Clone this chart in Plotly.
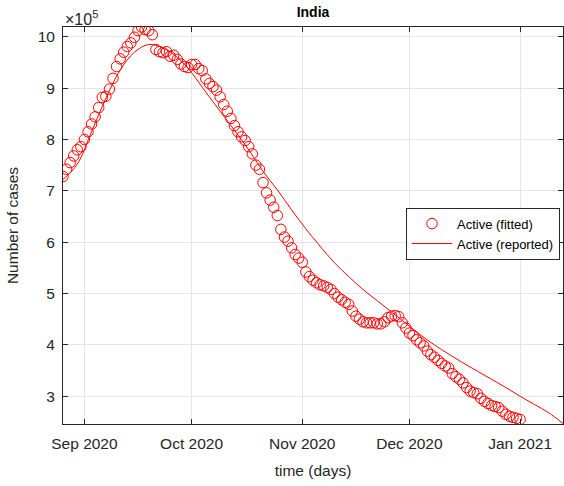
import plotly.graph_objects as go
import pandas as pd

# Daily active cases (in units of 1e5), 26 Aug 2020 .. 1 Jan 2021
FITTED_START = "2020-08-26"
ACTIVE_FITTED = [
    7.28, 7.42, 7.55, 7.68, 7.80, 7.86, 8.00, 8.15, 8.30, 8.44,
    8.62, 8.82, 8.84, 8.98, 9.19, 9.42, 9.57, 9.70, 9.81, 9.88,
    9.99, 10.12, 10.19, 10.14, 10.12, 10.04, 9.75, 9.71, 9.69, 9.71,
    9.62, 9.64, 9.56, 9.47, 9.42, 9.40, 9.46, 9.46, 9.38, 9.34,
    9.18, 9.09, 9.03, 8.96, 8.83, 8.68, 8.55, 8.41, 8.27, 8.15,
    8.05, 7.98, 7.86, 7.72, 7.50, 7.42, 7.16, 6.96, 6.82, 6.68,
    6.52, 6.25, 6.10, 6.02, 5.89, 5.76, 5.69, 5.61, 5.42, 5.33,
    5.26, 5.21, 5.17, 5.15, 5.12, 5.08, 5.00, 4.93, 4.88, 4.83,
    4.79, 4.66, 4.56, 4.50, 4.45, 4.43, 4.43, 4.43, 4.41, 4.41,
    4.45, 4.53, 4.56, 4.57, 4.55, 4.43, 4.33, 4.23, 4.18, 4.10,
    4.04, 3.98, 3.88, 3.81, 3.76, 3.70, 3.64, 3.59, 3.55, 3.44,
    3.38, 3.33, 3.26, 3.17, 3.10, 3.07, 3.05, 2.96, 2.90, 2.86,
    2.82, 2.80, 2.78, 2.71, 2.65, 2.61, 2.59, 2.57, 2.55,
]

# Model curve sampled every 4 days (in units of 1e5), 26 Aug 2020 .. 13 Jan 2021
REPORTED_START = "2020-08-26"
REPORTED_STEP_DAYS = 4
ACTIVE_REPORTED = [
    7.22, 7.52, 8.15, 8.80, 9.35, 9.70, 9.85, 9.78, 9.60, 9.30,
    8.92, 8.55, 8.18, 7.80, 7.38, 7.02, 6.63, 6.26, 5.92, 5.60,
    5.33, 5.08, 4.86, 4.64, 4.42, 4.20, 4.00, 3.82, 3.65, 3.49,
    3.33, 3.17, 3.00, 2.84, 2.68, 2.47,
]

X_TICKS = ["2020-09-01", "2020-10-01", "2020-11-01", "2020-12-01", "2021-01-01"]
X_TICK_LABELS = ["Sep 2020", "Oct 2020", "Nov 2020", "Dec 2020", "Jan 2021"]
Y_TICKS = [3, 4, 5, 6, 7, 8, 9, 10]
SCALE = 1e5

fitted_dates = pd.date_range(FITTED_START, periods=len(ACTIVE_FITTED), freq="D")
reported_dates = pd.date_range(REPORTED_START, periods=len(ACTIVE_REPORTED),
                               freq=f"{REPORTED_STEP_DAYS}D")

RED = "#ff0000"
INK = "#262626"
GRID = "#e6e6e6"
FONT = "Liberation Sans, Arial, Helvetica, sans-serif"

fig = go.Figure()
fig.add_trace(go.Scatter(
    x=fitted_dates, y=[v * SCALE for v in ACTIVE_FITTED],
    mode="markers", name="Active (fitted)",
    marker=dict(symbol="circle-open", size=10.5, color=RED, line=dict(width=1, color=RED)),
))
fig.add_trace(go.Scatter(
    x=reported_dates, y=[v * SCALE for v in ACTIVE_REPORTED],
    mode="lines", name="Active (reported)",
    line=dict(color=RED, width=1, shape="spline", smoothing=1.0),
))

fig.update_layout(
    width=564, height=486,
    margin=dict(l=63, r=1, t=27, b=62),
    paper_bgcolor="white", plot_bgcolor="white",
    font=dict(family=FONT, size=15, color=INK),
    showlegend=True,
    title=dict(text="<b>India</b>", x=(63 + 563) / 2 / 564, xanchor="center",
               y=1 - 12 / 486, yanchor="middle", yref="container",
               font=dict(size=14, color="black")),
    legend=dict(x=0.994, xanchor="right", y=0.545, yanchor="top",
                bgcolor="white", bordercolor=INK, borderwidth=1,
                font=dict(size=13, color="black"),
                tracegroupgap=0, itemwidth=40),
)

fig.update_xaxes(
    range=[pd.Timestamp("2020-08-26"), pd.Timestamp("2021-01-13")],
    tickvals=X_TICKS, ticktext=X_TICK_LABELS,
    showgrid=True, gridcolor=GRID, gridwidth=1,
    showline=True, linecolor=INK, linewidth=1, mirror="ticks",
    ticks="inside", ticklen=5, tickcolor=INK,
    tickfont=dict(size=15.5, color=INK), ticklabelstandoff=5,
    title=dict(text="time (days)", font=dict(size=15.5, color=INK), standoff=14),
    zeroline=False,
)
fig.update_yaxes(
    range=[2.46 * SCALE, 10.19 * SCALE],
    tickvals=[v * SCALE for v in Y_TICKS], ticktext=[str(v) for v in Y_TICKS],
    showgrid=True, gridcolor=GRID, gridwidth=1,
    showline=True, linecolor=INK, linewidth=1, mirror="ticks",
    ticks="inside", ticklen=5, tickcolor=INK,
    tickfont=dict(size=15.5, color=INK), ticklabelstandoff=4,
    title=dict(text="Number of cases", font=dict(size=15.5, color=INK), standoff=15),
    zeroline=False,
)

fig.add_annotation(
    text="×10<sup>5</sup>", xref="paper", yref="paper",
    x=0, y=1, xanchor="left", yanchor="bottom", yshift=-3,
    showarrow=False, font=dict(size=16, color=INK),
)

fig.write_html("out.html")
